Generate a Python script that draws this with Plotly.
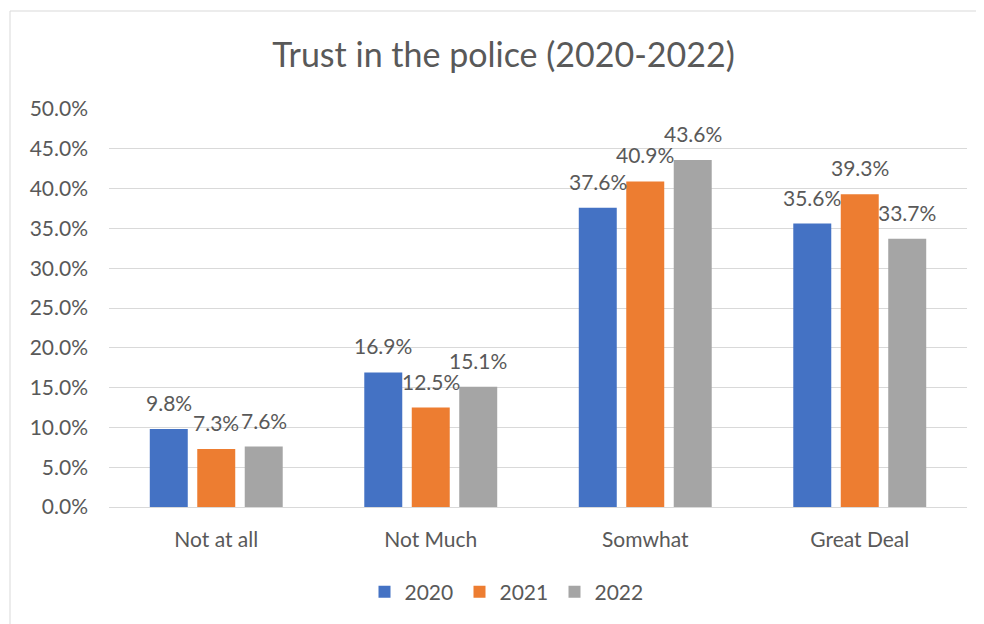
import plotly.graph_objects as go

# Data
categories = ["Not at all", "Not Much", "Somwhat", "Great Deal"]
years = ["2020", "2021", "2022"]
vals_2020 = [0.098, 0.169, 0.376, 0.356]
vals_2021 = [0.073, 0.125, 0.409, 0.393]
vals_2022 = [0.076, 0.151, 0.436, 0.337]
colors = ["#4472C4", "#ED7D31", "#A5A5A5"]

FONT = "Lato, Calibri, sans-serif"
TXT = "#595959"

# page body has an 8px margin, so plot coords are shifted by -8
# plot area: x 101..959, y 101..499
L, R, T, B = 101, 25, 101, 125
W, H = 984, 624
pw, ph = W - L - R, H - T - B
cat_w = pw / len(categories)
bargap, groupgap = 0.336, 0.2
slot = cat_w * (1 - bargap) / 3

fig = go.Figure()
series = [vals_2020, vals_2021, vals_2022]
for i, (name, vals, col) in enumerate(zip(years, series, colors)):
    fig.add_trace(
        go.Bar(
            x=categories,
            y=vals,
            name=name,
            marker=dict(color=col, line=dict(width=0)),
        )
    )
    # data labels above each bar (Excel style)
    for cat, v in zip(categories, vals):
        fig.add_annotation(
            x=cat,
            y=v,
            text=f"{v:.1%}",
            showarrow=False,
            xanchor="center",
            yanchor="bottom",
            xshift=(i - 1) * slot,
            yshift=12,
            font=dict(size=21, color=TXT, family=FONT),
        )

fig.update_layout(
    width=W,
    height=H,
    margin=dict(l=L, r=R, t=T, b=B, autoexpand=False),
    paper_bgcolor="white",
    plot_bgcolor="white",
    font=dict(family=FONT, color=TXT, size=21),
    title=dict(
        text="Trust in the police (2020-2022)",
        x=495.5 / W,
        xanchor="center",
        y=(H - 47) / H,
        yanchor="middle",
        font=dict(size=34, color=TXT, family=FONT),
    ),
    barmode="group",
    bargap=bargap,
    bargroupgap=groupgap,
    showlegend=True,
    legend=dict(
        orientation="h",
        x=(499 - L) / pw,
        xanchor="center",
        y=(499 - 584) / ph,
        yanchor="middle",
        entrywidth=50,
        font=dict(size=21, color=TXT, family=FONT),
    ),
    xaxis=dict(
        showgrid=False,
        showline=True,
        linecolor="#d9d9d9",
        linewidth=1,
        ticks="",
        ticklabelstandoff=14,
        tickfont=dict(size=21, color=TXT),
    ),
    yaxis=dict(
        range=[0, 0.5],
        dtick=0.05,
        tickformat=".1%",
        showgrid=True,
        gridcolor="#d9d9d9",
        gridwidth=1,
        zeroline=False,
        ticks="",
        ticklabelstandoff=20,
        tickfont=dict(size=21, color=TXT),
    ),
    shapes=[
        dict(
            type="rect",
            xref="paper",
            yref="paper",
            x0=(2 - L) / pw,
            x1=(990 - L) / pw,
            y0=(499 - 640) / ph,
            y1=(499 - 3) / ph,
            line=dict(color="#d9d9d9", width=1),
            fillcolor="rgba(0,0,0,0)",
        )
    ],
)

fig.write_html("out.html")
